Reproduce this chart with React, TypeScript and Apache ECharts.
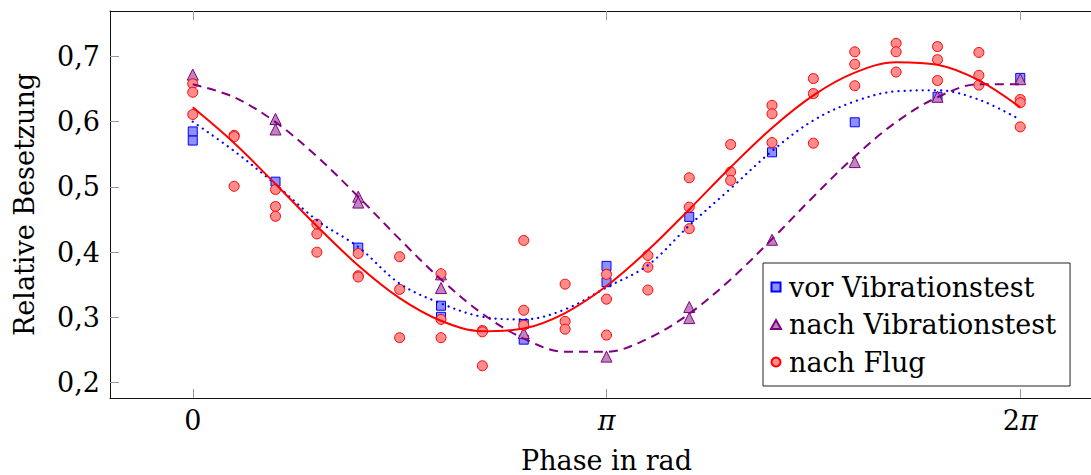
import React, { useEffect, useRef } from 'react';
import * as echarts from 'echarts';

const PI = Math.PI;
const STEP = PI / 10; // measurement points every π/10

// Tick marks
const xTickValues = [0, PI, 2 * PI];
const xTickLabels = ['0', '{i|π}', '2{i|π}'];
const yTickValues = [0.2, 0.3, 0.4, 0.5, 0.6, 0.7];

// Axis ranges
const xMin = -0.2 * PI;
const xMax = 2.2 * PI;
const yMin = 0.1766;
const yMax = 0.7695;

// vor Vibrationstest (step index, value)
const vorSteps = [0, 0, 2, 4, 6, 6, 8, 8, 10, 10, 12, 14, 16, 18, 20];
const vorValues = [0.585, 0.571, 0.508, 0.407, 0.318, 0.301, 0.29, 0.266, 0.379, 0.354, 0.454, 0.553, 0.599, 0.638, 0.667];

// nach Vibrationstest
const nachSteps = [0, 2, 2, 4, 4, 6, 6, 8, 10, 12, 12, 14, 16, 18, 20];
const nachValues = [0.672, 0.604, 0.588, 0.485, 0.476, 0.366, 0.345, 0.276, 0.24, 0.316, 0.299, 0.419, 0.538, 0.638, 0.665];

// nach Flug (three readings per step)
const flugSteps = [
  0, 0, 0, 1, 1, 1, 2, 2, 2, 3, 3, 3, 4, 4, 4, 5, 5, 5, 6, 6, 6, 7, 7, 7,
  8, 8, 8, 9, 9, 9, 10, 10, 10, 11, 11, 11, 12, 12, 12, 13, 13, 13, 14, 14, 14,
  15, 15, 15, 16, 16, 16, 17, 17, 17, 18, 18, 18, 19, 19, 19, 20, 20, 20,
];
const flugValues = [
  0.658, 0.645, 0.611, 0.579, 0.577, 0.501, 0.496, 0.47, 0.455, 0.443, 0.428, 0.4,
  0.398, 0.364, 0.362, 0.393, 0.343, 0.269, 0.367, 0.297, 0.269, 0.28, 0.278, 0.226,
  0.418, 0.311, 0.288, 0.351, 0.294, 0.282, 0.366, 0.328, 0.273, 0.395, 0.377, 0.342,
  0.514, 0.469, 0.436, 0.565, 0.523, 0.51, 0.625, 0.612, 0.568, 0.666, 0.643, 0.567,
  0.707, 0.688, 0.655, 0.72, 0.707, 0.676, 0.715, 0.695, 0.663, 0.706, 0.671, 0.656,
  0.634, 0.629, 0.592,
];

// Fit curves at each step
const fitSteps = [0, 1, 2, 3, 4, 5, 6, 7, 8, 9, 10, 11, 12, 13, 14, 15, 16, 17, 18, 19, 20];
const fitVor = [0.6, 0.555, 0.504, 0.449, 0.408, 0.352, 0.3215, 0.301, 0.297, 0.3124, 0.346, 0.38, 0.441, 0.4975, 0.555, 0.602, 0.631, 0.6464, 0.648, 0.6337, 0.603];
const fitNach = [0.6574, 0.6374, 0.5992, 0.5467, 0.485, 0.42, 0.3583, 0.3058, 0.2676, 0.2475, 0.2475, 0.2676, 0.3058, 0.3583, 0.42, 0.485, 0.5467, 0.5992, 0.6374, 0.6574, 0.6574];
const fitFlug = [0.6219, 0.5672, 0.5045, 0.4399, 0.3796, 0.3297, 0.295, 0.2789, 0.283, 0.3068, 0.3481, 0.4028, 0.4655, 0.5301, 0.5904, 0.6403, 0.675, 0.6911, 0.687, 0.6632, 0.6219];

const seriesNames = ['vor Vibrationstest', 'nach Vibrationstest', 'nach Flug'];

const pairs = (steps: number[], vals: number[]) => steps.map((s, i) => [s * STEP, vals[i]]);

const FONT = '"DejaVu Serif", serif';
const SQUARE_ICON = 'path://M0,0L10,0L10,10L0,10Z';
const TRIANGLE_ICON = 'path://M5,0L10,9L0,9Z';

export default function App() {
  const ref = useRef<HTMLDivElement>(null);
  useEffect(() => {
    if (!ref.current) return;
    const chart = echarts.init(ref.current, undefined, { renderer: 'svg' });
    const axisLine = { show: true, onZero: false, lineStyle: { color: '#111', width: 1 } };
    const tickStyle = { color: '#999', width: 1 };
    const labelText = { fontFamily: FONT, fontSize: 27, color: '#000' };
    const option: any = {
      animation: false,
      backgroundColor: '#fff',
      grid: { left: 110, top: 11, width: 993, height: 387, containLabel: false, outerBoundsMode: 'none' },
      xAxis: [
        {
          type: 'value', min: xMin, max: xMax, position: 'bottom',
          name: 'Phase in rad', nameLocation: 'middle', nameGap: 49,
          nameTextStyle: { ...labelText },
          axisLine,
          axisTick: { show: true, inside: true, length: 9, customValues: xTickValues, lineStyle: tickStyle },
          axisLabel: {
            show: true, customValues: xTickValues, margin: 9, ...labelText,
            rich: { i: { ...labelText, fontStyle: 'italic' } },
            formatter: (v: number) => {
              const i = xTickValues.findIndex((t) => Math.abs(t - v) < 1e-6);
              return i >= 0 ? xTickLabels[i] : '';
            },
          },
          splitLine: { show: false },
        },
        {
          type: 'value', min: xMin, max: xMax, position: 'top',
          axisLine,
          axisTick: { show: true, inside: true, length: 9, customValues: xTickValues, lineStyle: tickStyle },
          axisLabel: { show: false },
          splitLine: { show: false },
        },
      ],
      yAxis: [
        {
          type: 'value', min: yMin, max: yMax, position: 'left',
          name: 'Relative Besetzung', nameLocation: 'middle', nameGap: 72, nameRotate: 90,
          nameTextStyle: { ...labelText },
          axisLine,
          axisTick: { show: true, inside: true, length: 9, customValues: yTickValues, lineStyle: tickStyle },
          axisLabel: {
            show: true, customValues: yTickValues, margin: 10, ...labelText,
            formatter: (v: number) => v.toFixed(1).replace('.', ','),
          },
          splitLine: { show: false },
        },
        {
          type: 'value', min: yMin, max: yMax, position: 'right',
          axisLine,
          axisTick: { show: true, inside: true, length: 9, customValues: yTickValues, lineStyle: tickStyle },
          axisLabel: { show: false },
          splitLine: { show: false },
        },
      ],
      legend: {
        data: [
          { name: seriesNames[0], icon: SQUARE_ICON },
          { name: seriesNames[1], icon: TRIANGLE_ICON },
          { name: seriesNames[2], icon: 'circle' },
        ],
        orient: 'vertical',
        left: 763,
        top: 263,
        padding: [9, 14, 9, 7],
        itemGap: 7.5,
        itemWidth: 16,
        itemHeight: 9,
        symbolKeepAspect: true,
        borderColor: '#222',
        borderWidth: 1,
        backgroundColor: '#fff',
        textStyle: { ...labelText, lineHeight: 30 },
      },
      series: [
        {
          type: 'scatter', name: seriesNames[0], data: pairs(vorSteps, vorValues),
          symbol: 'rect', symbolSize: 9,
          itemStyle: { color: '#8f8fff', borderColor: '#0000ff', borderWidth: 1, opacity: 1 },
        },
        {
          type: 'scatter', name: seriesNames[1], data: pairs(nachSteps, nachValues),
          symbol: 'triangle', symbolSize: 11,
          itemStyle: { color: '#bf85bf', borderColor: '#800080', borderWidth: 1, opacity: 1 },
        },
        {
          type: 'scatter', name: seriesNames[2], data: pairs(flugSteps, flugValues),
          symbol: 'circle', symbolSize: 10,
          itemStyle: { color: '#ff8c8c', borderColor: '#ff0000', borderWidth: 1, opacity: 1 },
        },
        {
          type: 'line', name: 'fit vor', data: pairs(fitSteps, fitVor), smooth: 0.35,
          showSymbol: false, symbol: 'none',
          lineStyle: { color: '#0000ff', width: 2.2, type: [0.1, 6], cap: 'round' },
        },
        {
          type: 'line', name: 'fit nach', data: pairs(fitSteps, fitNach), smooth: 0.35,
          showSymbol: false, symbol: 'none',
          lineStyle: { color: '#800080', width: 2, type: [9, 6] },
        },
        {
          type: 'line', name: 'fit flug', data: pairs(fitSteps, fitFlug), smooth: 0.35,
          showSymbol: false, symbol: 'none',
          lineStyle: { color: '#ff0000', width: 2 },
        },
      ],
    };
    chart.setOption(option);
    return () => chart.dispose();
  }, []);
  return <div ref={ref} style={{ position: 'absolute', left: 0, top: 0, width: 1091, height: 475 }} />;
}
